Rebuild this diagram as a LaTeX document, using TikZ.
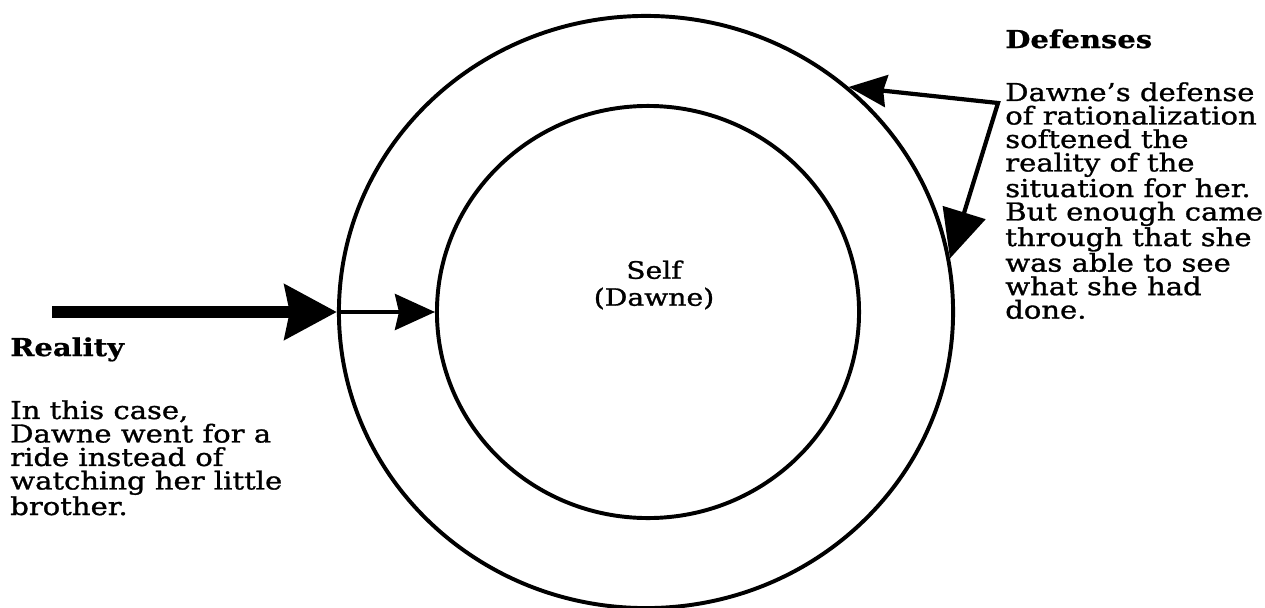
\documentclass[tikz,border=0pt]{standalone}
\usepackage{fontspec}
\setmainfont{DejaVu Serif}[FakeStretch=1.18, UprightFeatures={FakeBold=1.2}, BoldFeatures={FakeBold=0.8}]
\usetikzlibrary{arrows.meta, positioning, shapes.geometric}

\tikzset{
	ring/.style={draw, ellipse, line width=2.8pt, inner sep=0pt},
	note/.style={inner sep=0pt, align=left, font=\fontsize{17.5pt}{16.7pt}\selectfont},
	head/.style={inner sep=0pt, font=\fontsize{17.5pt}{16.7pt}\selectfont\bfseries},
}

\begin{document}
\begin{tikzpicture}[x=0.025cm, y=-0.025cm]
		\useasboundingbox (0,0) rectangle (1265,607);
		
		% Rings
		\node[ring, minimum width=15.35cm, minimum height=14.8cm] (outer) at (646,312) {};
		\node[ring, minimum width=10.55cm, minimum height=10.3cm] (inner) at (648,312) {};
		\node[note, align=center, font=\fontsize{17pt}{19.2pt}\selectfont] (self) at (654,285) {Self\\(Dawne)};
		
		% Reality coming in
		\coordinate (realstart) at (52,312);
		\draw[line width=8.5pt, -{Stealth[length=1.3cm, width=1.35cm, inset=0.12cm]}] (realstart) -- (outer.west);
		\draw[line width=2.8pt, -{Stealth[length=1cm, width=0.9cm, inset=0.1cm]}] (outer.west) -- (inner.west);
		\node[head, anchor=base west] (realhead) at (10,356) {Reality};
		\node[note, anchor=north west] (realtext) at (10,400)
		{In this case,\\Dawne went for a\\ride instead of\\watching her little\\brother.};
		
		% Defenses
		\coordinate (defcorner) at (998,103);
		\draw[line width=3pt, {Stealth[length=0.95cm, width=0.8cm, inset=0.08cm]}-{Triangle[length=1.2cm, width=1.1cm]}]
		(outer.48) -- (defcorner) -- (outer.10);
		\node[head, anchor=base west] (defhead) at (1005,48) {Defenses};
		\node[note, anchor=north west] (deftext) at (1005,82)
		{Dawne's defense\\of rationalization\\softened the\\reality of the\\situation for her.\\But enough came\\through that she\\was able to see\\what she had\\done.};
	\end{tikzpicture}
\end{document}
